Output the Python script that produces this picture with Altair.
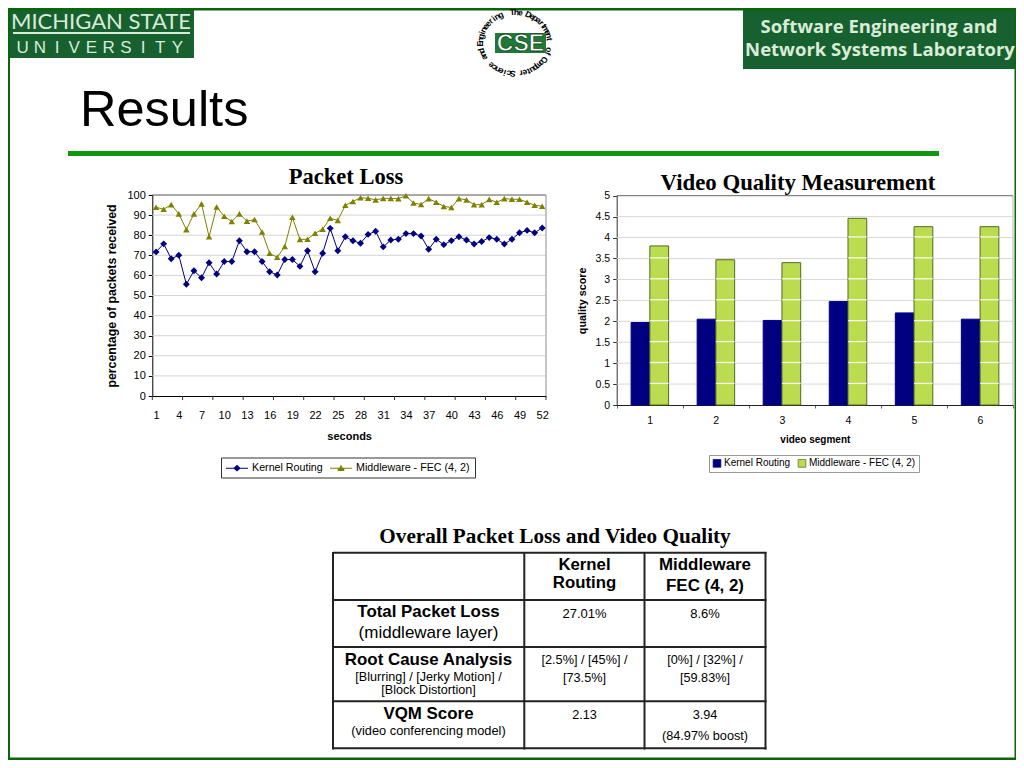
import math
import altair as alt
import pandas as pd

KERNEL = "Kernel Routing"
FEC = "Middleware - FEC (4, 2)"
seconds = list(range(1, 53))
kernel_pct = [71.7, 75.7, 68.3, 70, 55.6, 62.3, 58.8, 66.3, 60.7, 66.9, 66.9, 77.2, 71.8, 71.8, 66.9, 61.8, 60.2, 67.9, 67.9, 64.5, 72.3, 61.8, 71, 83.4, 72.3, 79.2, 77.2, 76, 80.4, 82, 74.2, 77.6, 78, 80.8, 80.8, 79.6, 73, 78, 75.3, 77.3, 79.2, 77.6, 75.6, 76.9, 78.8, 78, 75.6, 78, 81.2, 82.4, 81.2, 83.6]
fec_pct = [93.9, 92.9, 95.2, 90.6, 82.8, 90.6, 95.6, 79.2, 94, 89.4, 86.8, 90.6, 87, 87.8, 81.6, 71, 69, 74.4, 88.9, 77.9, 78, 81, 83, 88.4, 87.4, 94.9, 96.8, 98.6, 98.4, 97.6, 98.3, 98.3, 98.2, 99.6, 96, 95.3, 98.2, 96.4, 94.3, 93.8, 98.2, 97.6, 95.2, 95.2, 97.8, 96.4, 98.2, 97.9, 97.9, 96.4, 94.9, 94.4]
segments = [1, 2, 3, 4, 5, 6]
kernel_vq = [1.97, 2.05, 2.02, 2.47, 2.2, 2.05]
fec_vq = [3.8, 3.47, 3.4, 4.46, 4.26, 4.26]
pct_ticks = list(range(0, 101, 10))
x_labels = list(range(1, 53, 3))
x_tick_marks = [0.5 + 4 * i for i in range(14)]
vq_ticks = [0.5 * i for i in range(11)]

NAVY, OLIVE, LIME = "#000080", "#808000", "#bcdc50"
SANS, SERIF = "Liberation Sans", "Liberation Serif"
FRAME, LOGO, LIGHT = "#0b660b", "#17602f", "#d9ecd9"
W, H = 1008, 752


def P(v):
    return v - 8


def txt(text, x, y, size=12, bold=False, font=SANS, color="black", align="center"):
    return alt.Chart(alt.Data(values=[{"t": text}])).mark_text(
        font=font, fontSize=size, fontWeight="bold" if bold else "normal",
        color=color, align=align, baseline="alphabetic",
    ).encode(text="t:N", x=alt.value(P(x)), y=alt.value(P(y)))


def box(x0, y0, x1, y1, color, stroke=None):
    mark = {"color": color, "stroke": stroke}
    if stroke:
        mark["strokeWidth"] = 1
    else:
        mark.pop("stroke")
    return alt.Chart(alt.Data(values=[{}])).mark_rect(**mark).encode(
        x=alt.value(max(P(x0), 0)), x2=alt.value(P(x1)), y=alt.value(max(P(y0), 0)), y2=alt.value(P(y1)))


# ---------- line panel ----------
lx = alt.Scale(domain=[0.5, 52.5], range=[P(152.3), P(546)], nice=False)
ly = alt.Scale(domain=[0, 100], range=[P(396), P(195)], nice=False)
series_color = alt.Color("series:N", scale=alt.Scale(domain=[KERNEL, FEC], range=[NAVY, OLIVE]), legend=None)
line_df = pd.DataFrame({
    "sec": seconds * 2,
    "pct": kernel_pct + fec_pct,
    "series": [KERNEL] * 52 + [FEC] * 52,
})
grid_l = alt.Chart(pd.DataFrame({"v": pct_ticks[1:-1]})).mark_rule(color="#d4d4d4", strokeWidth=1).encode(
    y=alt.Y("v:Q", scale=ly, axis=None), x=alt.value(P(152.3)), x2=alt.value(P(546)))
top_l = alt.Chart(pd.DataFrame({"v": [100]})).mark_rule(color="#555555", strokeWidth=1).encode(
    y=alt.Y("v:Q", scale=ly, axis=None), x=alt.value(P(152.3)), x2=alt.value(P(546)))
right_l = alt.Chart(pd.DataFrame({"v": [52.5]})).mark_rule(color="#a0a0a0", strokeWidth=1.2).encode(
    x=alt.X("v:Q", scale=lx, axis=None), y=alt.value(P(195)), y2=alt.value(P(396)))
ticks_l = alt.Chart(pd.DataFrame({"v": x_tick_marks})).mark_rule(color="#333333", strokeWidth=1).encode(
    x=alt.X("v:Q", scale=lx, axis=None), y=alt.value(P(396)), y2=alt.value(P(400)))
lines = alt.Chart(line_df).mark_line(strokeWidth=1).encode(
    x=alt.X("sec:Q", scale=lx, axis=alt.Axis(
        orient="bottom", offset=P(396) - H, values=x_labels, grid=False, ticks=False, domainColor="black",
        labelFont=SANS, labelFontSize=11, labelColor="black", labelPadding=13, labelOverlap=False,
        title="seconds", titleFont=SANS, titleFontSize=11, titleFontWeight="bold", titleColor="black", titlePadding=10)),
    y=alt.Y("pct:Q", scale=ly, axis=alt.Axis(
        orient="left", offset=-P(152.3), values=pct_ticks, grid=False, tickSize=4, tickColor="black", domainColor="black",
        labelFont=SANS, labelFontSize=11, labelColor="black", labelPadding=3,
        title="percentage of packets received", titleFont=SANS, titleFontSize=12.3, titleFontWeight="bold",
        titleColor="black", titlePadding=8)),
    color=series_color, detail="series:N")
dia = alt.Chart(line_df[line_df.series == KERNEL]).mark_point(shape="diamond", filled=True, size=48, opacity=1).encode(
    x=alt.X("sec:Q", scale=lx, axis=None), y=alt.Y("pct:Q", scale=ly, axis=None), color=series_color)
tri = alt.Chart(line_df[line_df.series == FEC]).mark_point(shape="triangle-up", filled=True, size=42, opacity=1).encode(
    x=alt.X("sec:Q", scale=lx, axis=None), y=alt.Y("pct:Q", scale=ly, axis=None), color=series_color)
line_panel = alt.layer(grid_l, top_l, right_l, ticks_l, lines, dia, tri).resolve_axis(x="independent", y="independent")

key_legend = alt.Legend(
    orient="none", legendX=P(226), legendY=P(457), direction="horizontal", title=None, symbolSize=484,
    symbolOpacity=1, labelFont=SANS, labelFontSize=10.7, labelColor="black",
    padding=0, columnPadding=7, labelOffset=4, labelLimit=200, symbolStrokeWidth=0)
line_key = alt.Chart(pd.DataFrame({"series": [KERNEL, FEC]})).mark_point(filled=True, opacity=0).encode(
    x=alt.value(0), y=alt.value(0),
    color=alt.Color("series:N", scale=alt.Scale(domain=[KERNEL, FEC], range=[NAVY, OLIVE]), legend=key_legend),
    shape=alt.Shape("series:N", scale=alt.Scale(domain=[KERNEL, FEC], range=[
        "M-1,-0.045H-0.29L0,-0.3L0.29,-0.045H1V0.045H0.29L0,0.3L-0.29,0.045H-1Z",
        "M-1,-0.045H-0.15L0,-0.3L0.15,-0.045H1V0.045H0.3L0.3,0.25H-0.3L-0.3,0.045H-1Z"]), legend=key_legend))

# ---------- bar panel ----------
bx = alt.Scale(domain=segments, range=[P(616.7), P(1013)], paddingInner=0, paddingOuter=0)
by = alt.Scale(domain=[0, 5], range=[P(405), P(195.7)], nice=False)
off = alt.Scale(domain=[KERNEL, FEC], range=[14.4, 51.9], paddingInner=0, paddingOuter=0)
bar_df = pd.DataFrame({
    "seg": segments * 2,
    "q": kernel_vq + fec_vq,
    "series": [KERNEL] * 6 + [FEC] * 6,
})
grid_b = alt.Chart(pd.DataFrame({"v": vq_ticks[1:-1]})).mark_rule(color="#d8d8d8", strokeWidth=1).encode(
    y=alt.Y("v:Q", scale=by, axis=None), x=alt.value(P(616.7)), x2=alt.value(P(1013)))
top_b = alt.Chart(pd.DataFrame({"v": [5]})).mark_rule(color="#666666", strokeWidth=1).encode(
    y=alt.Y("v:Q", scale=by, axis=None), x=alt.value(P(616.7)), x2=alt.value(P(1013)))
right_b = alt.Chart(pd.DataFrame({"seg": [6]})).mark_rule(color="#b8b8c0", strokeWidth=1).encode(
    x=alt.value(P(1013)), y=alt.value(P(195.7)), y2=alt.value(P(405)))
bars = alt.Chart(bar_df).mark_bar(strokeWidth=1).encode(
    x=alt.X("seg:N", scale=bx, axis=alt.Axis(
        orient="bottom", offset=P(405) - H, labelAngle=0, grid=False, tickBand="extent", tickSize=3, tickColor="#666666",
        domainColor="#222222", labelFont=SANS, labelFontSize=10.5, labelColor="black", labelPadding=7,
        title="video segment", titleFont=SANS, titleFontSize=10, titleFontWeight="bold", titleColor="black", titlePadding=9)),
    xOffset=alt.XOffset("series:N", scale=off),
    y=alt.Y("q:Q", scale=by, axis=alt.Axis(
        orient="left", offset=-P(616.7), values=vq_ticks, format="~g", grid=False, tickSize=4, tickColor="#333333",
        domainColor="#333333", labelFont=SANS, labelFontSize=10.5, labelColor="black", labelPadding=3,
        title="quality score", titleFont=SANS, titleFontSize=10.8, titleFontWeight="bold", titleColor="black", titlePadding=8)),
    color=alt.Color("series:N", scale=alt.Scale(domain=[KERNEL, FEC], range=[NAVY, LIME]), legend=alt.Legend(
        orient="none", legendX=P(709), legendY=P(455), direction="horizontal", title=None, symbolType="square",
        symbolSize=60, symbolStrokeColor="#333333", symbolStrokeWidth=0.7, labelFont=SANS, labelFontSize=10,
        labelColor="black", strokeColor="#999999", fillColor="white", padding=3, columnPadding=5, labelOffset=2,
        labelLimit=200)),
    stroke=alt.Stroke("series:N", scale=alt.Scale(domain=[KERNEL, FEC], range=[NAVY, "#4f6b1f"]), legend=None))
bright = pd.DataFrame([
    {"seg": s, "series": FEC, "v": t, "v2": t + 0.03}
    for s, q in zip(segments, fec_vq) for t in vq_ticks[1:] if t < q
])
white_lines = alt.Chart(bright).mark_bar(color="white", stroke=None, opacity=0.9).encode(
    x=alt.X("seg:N", scale=bx, axis=None), xOffset=alt.XOffset("series:N", scale=off),
    y=alt.Y("v:Q", scale=by, axis=None), y2="v2:Q")
bar_panel = alt.layer(grid_b, top_b, right_b, bars, white_lines).resolve_axis(
    x="independent", y="independent").resolve_scale(color="shared", stroke="shared")

# ---------- decoration ----------
deco = [
    box(8, 8, 194, 58, LOGO), box(743, 8, 1016, 69, LOGO), box(68, 151, 939, 156, "#0f960f"),
    box(0, 0, 1016, 10.5, FRAME), box(0, 0, 10, 760, FRAME), box(1014.5, 0, 1016, 760, FRAME), box(0, 757.5, 1016, 760, FRAME),
    box(13, 32, 190, 34, LIGHT),
    box(221.5, 458, 475.5, 478, "white", "#333333"),
    txt("MICHIGAN STATE", 101, 29, size=22, font="Lato", color=LIGHT),
    txt("Software Engineering and", 879, 33, size=18.5, bold=True, font="Open Sans", color=LIGHT),
    txt("Network Systems Laboratory", 880, 56, size=18.5, bold=True, font="Open Sans", color=LIGHT),
    txt("Results", 80, 126, size=50.5, align="left"),
    txt("Packet Loss", 346, 184, size=22.5, bold=True, font=SERIF),
    txt("Video Quality Measurement", 798, 190, size=22.8, bold=True, font=SERIF),
    txt("Overall Packet Loss and Video Quality", 555, 543, size=21.2, bold=True, font=SERIF),
]
univ = list("UNIVERSITY")
deco.append(alt.Chart(pd.DataFrame({"c": univ, "i": range(10)})).mark_text(
    font=SANS, fontSize=17, color=LIGHT, baseline="alphabetic").encode(
    x=alt.X("i:O", scale=alt.Scale(type="point", domain=list(range(10)), range=[P(14), P(186)]), axis=None),
    y=alt.value(P(53)), text="c:N"))

# round departmental seal
ring = "and Engineering  The Department  of Computer Science"
pix = alt.Scale(domain=[0, W], range=[0, W])
piy = alt.Scale(domain=[0, H], range=[0, H])
rows = []
for i, c in enumerate(ring):
    a = -118 + i * 6.7
    rows.append({"c": c, "a": a % 360,
                 "x": P(515 + 35 * math.sin(math.radians(a))),
                 "y": P(43 - 31 * math.cos(math.radians(a)))})
seal = alt.Chart(pd.DataFrame(rows)).mark_text(font=SANS, fontSize=8.5, fontWeight="bold", color="black", baseline="middle").encode(
    x=alt.X("x:Q", scale=pix, axis=None), y=alt.Y("y:Q", scale=piy, axis=None),
    angle=alt.Angle("a:Q", scale=None), text="c:N")
seal_box = box(495, 33, 546, 53, "#1f7a35")
seal_txt = alt.Chart(alt.Data(values=[{"t": "CSE"}])).mark_text(
    font=SANS, fontSize=23, fontWeight="bold", color="white", stroke="#0e4a1e", strokeWidth=0.8, baseline="alphabetic").encode(
    text="t:N", x=alt.value(P(520.5)), y=alt.value(P(51)))

# ---------- table ----------
table_lines_v = [333, 524.3, 644.5, 765.5]
table_lines_h = [552.7, 600, 647, 701.3, 748.3]
grid_t = [box(v - 1, 552, v + 1, 749.5, "#222222") for v in table_lines_v] + \
         [box(333, h - 1, 766.5, h + 1, "#222222") for h in table_lines_h]
c1, c2, c3 = 428.5, 584.5, 705
cells = [
    txt("Kernel", c2, 570, 16.8, True), txt("Routing", c2, 587.5, 16.8, True),
    txt("Middleware", c3, 570, 16.9, True), txt("FEC (4, 2)", c3, 591, 16.9, True),
    txt("Total Packet Loss", c1, 617, 16.9, True), txt("(middleware layer)", c1, 638, 17),
    txt("27.01%", c2, 618, 13), txt("8.6%", c3, 618, 13),
    txt("Root Cause Analysis", c1, 665, 16.9, True),
    txt("[Blurring] / [Jerky Motion] /", c1, 680.5, 12.6), txt("[Block Distortion]", c1, 693.5, 12.6),
    txt("[2.5%] / [45%] /", c2, 664, 12.7), txt("[73.5%]", c2, 682, 12.7),
    txt("[0%] / [32%] /", c3, 664, 12.7), txt("[59.83%]", c3, 682, 12.7),
    txt("VQM Score", c1, 719, 16.9, True), txt("(video conferencing model)", c1, 735, 12.8),
    txt("2.13", c2, 719, 12.7), txt("3.94", c3, 719, 12.7), txt("(84.97% boost)", c3, 740, 12.7),
]

chart = alt.layer(
    *deco, seal, seal_box, seal_txt, line_panel, line_key, bar_panel, *grid_t, *cells
).resolve_scale(x="independent", y="independent", color="independent", shape="independent", stroke="independent"
).properties(width=W, height=H, padding=0, autosize=alt.AutoSizeParams(type="none"), background="white"
).configure_view(stroke=None)

chart.save("out.html", embed_options={"renderer": "svg", "actions": False})
